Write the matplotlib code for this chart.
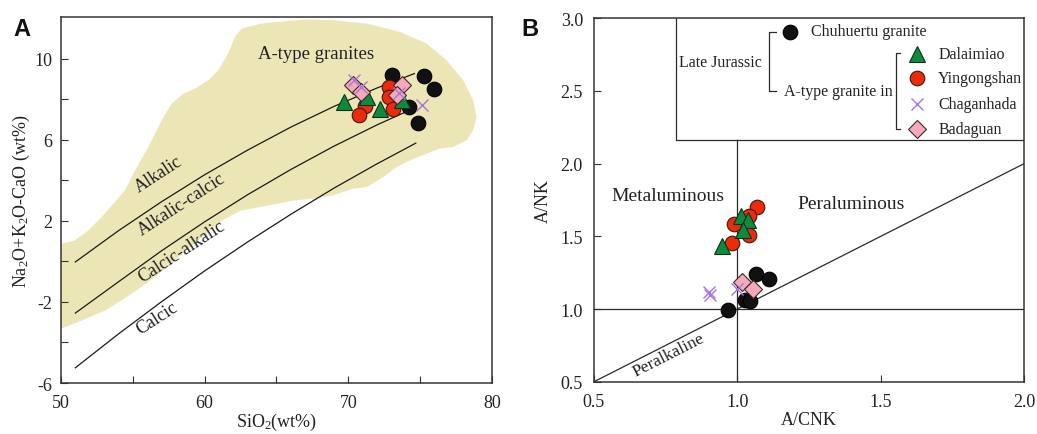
import matplotlib
matplotlib.use("Agg")
import matplotlib.pyplot as plt

plt.rcParams['font.family'] = ['Liberation Serif', 'DejaVu Serif']
plt.rcParams['mathtext.fontset'] = 'custom'
plt.rcParams['mathtext.rm'] = 'Liberation Serif'
plt.rcParams['mathtext.it'] = 'Liberation Serif:italic'

TXT = '#222222'

# ---------------- Panel A data ----------------
field_x = [50.0, 50.97, 51.90, 52.83, 53.64, 54.45, 55.15, 56.08, 57.01, 57.70, 58.51, 59.32,
           60.25, 60.95, 61.64, 62.11, 62.57, 63.97, 66.98, 68.95, 71.27, 73.59, 75.45, 76.84,
           78.00, 78.69, 78.93, 78.69, 78.23, 77.30, 76.37, 75.45, 74.29, 73.36, 72.43, 71.27,
           70.32, 68.95, 67.56, 66.17, 64.00, 62.57, 61.18, 59.55, 58.16, 56.54, 54.92, 53.06,
           51.44, 50.0]
field_y = [0.86, 1.03, 1.52, 2.18, 2.84, 3.50, 4.48, 5.64, 6.95, 7.78, 8.27, 8.52,
           8.93, 9.42, 10.25, 11.07, 11.48, 11.73, 11.93, 11.89, 11.73, 11.32, 10.74, 9.92,
           8.93, 7.94, 7.12, 6.46, 5.97, 5.64, 5.56, 5.31, 4.98, 4.65, 4.16, 3.66,
           3.58, 3.25, 3.09, 3.00, 2.70, 2.51, 2.01, 1.03, 0.21, -0.78, -1.60, -2.43,
           -2.92, -3.33]

b1_x = [51, 54, 57, 60, 63, 66, 69, 72, 74.6]
b1_y = [-0.03, 1.51, 2.94, 4.27, 5.49, 6.62, 7.64, 8.55, 9.26]
b2_x = [51, 54, 57, 60, 63, 66, 69, 72, 74.6]
b2_y = [-2.55, -1.01, 0.52, 1.95, 3.29, 4.53, 5.68, 6.73, 7.56]
b3_x = [51, 54, 57, 60, 63, 66, 69, 72, 74.7]
b3_y = [-5.25, -3.58, -1.99, -0.47, 0.96, 2.32, 3.61, 4.81, 5.83]

a_chu_x = [73.01, 75.26, 75.98, 74.24, 74.84]
a_chu_y = [9.18, 9.13, 8.48, 7.61, 6.80]
a_yin_x = [72.85, 72.85, 73.08, 71.15, 70.76]
a_yin_y = [8.60, 8.11, 7.53, 7.66, 7.20]
a_dal_x = [69.69, 71.32, 72.20, 73.71]
a_dal_y = [7.86, 8.11, 7.53, 7.94]
a_cha_x = [70.39, 70.86, 75.10, 73.50]
a_cha_y = [8.93, 8.60, 7.69, 8.30]
a_bad_x = [70.34, 70.88, 73.71, 73.40]
a_bad_y = [8.68, 8.36, 8.68, 8.22]

# ---------------- Panel B data ----------------
b_chu_x = [1.064, 1.111, 1.025, 1.045, 0.966]
b_chu_y = [1.241, 1.207, 1.063, 1.055, 0.994]
b_yin_x = [1.068, 1.041, 0.988, 1.041, 0.980]
b_yin_y = [1.704, 1.642, 1.585, 1.510, 1.455]
b_dal_x = [1.013, 1.038, 1.019, 0.948]
b_dal_y = [1.638, 1.615, 1.544, 1.436]
b_cha_x = [0.902, 0.905, 0.998]
b_cha_y = [1.116, 1.095, 1.138]
b_bad_x = [1.017, 1.056]
b_bad_y = [1.184, 1.138]

legend_names = ['Dalaimiao', 'Yingongshan', 'Chaganhada', 'Badaguan']

# styles
S_CHU = dict(marker='o', ms=10.5, mfc='#111111', mec='#000000', mew=0.8, ls='none')
S_YIN = dict(marker='o', ms=10.5, mfc='#EE2A0C', mec='#3a1a10', mew=0.8, ls='none')
S_DAL = dict(marker='^', ms=11, mfc='#0E8A3C', mec='#10301a', mew=0.8, ls='none')
S_CHA = dict(marker='x', ms=9, mec='#A678DC', mew=1.0, ls='none')
S_BAD = dict(marker='D', ms=9, mfc='#F6A9BA', mec='#3a2a2a', mew=0.8, ls='none')

FS_TICK = 13
FS_LAB = 13
FS_LEG = 11.5

fig = plt.figure(figsize=(10.37, 4.35), dpi=100)

# ================= Panel A =================
axA = fig.add_axes([0.0588, 0.1172, 0.4156, 0.8414])
axA.fill(field_x, field_y, color='#ECE6B7', lw=0, zorder=1)
for bx, by in [(b1_x, b1_y), (b2_x, b2_y), (b3_x, b3_y)]:
    axA.plot(bx, by, color='#1a1a1a', lw=0.9, zorder=2)
axA.plot(a_chu_x, a_chu_y, zorder=3, **S_CHU)
axA.plot(a_yin_x, a_yin_y, zorder=4, **S_YIN)
axA.plot(a_dal_x, a_dal_y, zorder=5, **S_DAL)
axA.plot(a_bad_x, a_bad_y, zorder=6, **S_BAD)
axA.plot(a_cha_x, a_cha_y, zorder=7, **S_CHA)

axA.set_xlim(50, 80)
axA.set_ylim(-6, 12.05)
axA.set_xticks([50, 55, 60, 65, 70, 75, 80])
axA.set_xticklabels(['50', '', '60', '', '70', '', '80'])
axA.set_yticks([-6, -4, -2, 0, 2, 4, 6, 8, 10])
axA.set_yticklabels(['-6', '', '-2', '', '2', '', '6', '', '10'])
axA.tick_params(direction='in', length=5, width=0.8, labelsize=FS_TICK, colors='#333333',
                labelcolor=TXT)
axA.tick_params(axis='x', pad=8)
axA.tick_params(axis='y', pad=6)
for s in axA.spines.values():
    s.set_linewidth(1.1)
    s.set_color('#333333')
axA.set_xlabel(r'SiO$_{\mathrm{2}}$(wt%)', fontsize=FS_LAB, color=TXT, labelpad=0)
axA.set_ylabel(r'Na$_{\mathrm{2}}$O+K$_{\mathrm{2}}$O-CaO (wt%)', fontsize=FS_LAB, color=TXT,
               labelpad=2)

axA.text(63.7, 10.25, 'A-type granites', fontsize=13.5, color=TXT, ha='left', va='center', zorder=8)
axA.text(56.77, 4.32, 'Alkalic', fontsize=13, color=TXT, rotation=33, ha='center', va='center')
axA.text(58.40, 2.84, 'Alkalic-calcic', fontsize=13, color=TXT, rotation=33, ha='center', va='center')
axA.text(58.40, 0.53, 'Calcic-alkalic', fontsize=13, color=TXT, rotation=33, ha='center', va='center')
axA.text(56.66, -2.76, 'Calcic', fontsize=13, color=TXT, rotation=33, ha='center', va='center')

fig.text(0.0125, 0.958, 'A', fontsize=17, fontweight='bold', family='Liberation Sans',
         ha='left', va='top', color='#111111')

# ================= Panel B =================
axB = fig.add_axes([0.5728, 0.1202, 0.4147, 0.8354])
lc = '#2a2a2a'
axB.plot([0.5, 2.0], [0.5, 2.0], color=lc, lw=0.9)
axB.plot([0.5, 2.0], [1.0, 1.0], color=lc, lw=0.9)
axB.plot([1.0, 1.0], [0.5, 2.16], color=lc, lw=0.9)
axB.plot([0.786, 0.786, 2.0], [3.0, 2.16, 2.16], color=lc, lw=0.9)

axB.plot(b_chu_x, b_chu_y, zorder=3, **S_CHU)
axB.plot(b_yin_x, b_yin_y, zorder=4, **S_YIN)
axB.plot(b_dal_x, b_dal_y, zorder=5, **S_DAL)
axB.plot(b_bad_x, b_bad_y, zorder=6, **S_BAD)
axB.plot(b_cha_x, b_cha_y, zorder=7, **S_CHA)

# legend drawn inside the box
axB.plot([1.184], [2.908], **S_CHU)
axB.text(1.257, 2.915, 'Chuhuertu granite', fontsize=FS_LEG, color=TXT, va='center', ha='left')
axB.text(0.798, 2.697, 'Late Jurassic', fontsize=FS_LEG, color=TXT, va='center', ha='left')
axB.plot([1.135, 1.112, 1.112, 1.135], [2.908, 2.908, 2.498, 2.498], color=lc, lw=0.9)
axB.text(1.164, 2.502, 'A-type granite in', fontsize=FS_LEG, color=TXT, va='center', ha='left')
axB.plot([1.567, 1.552, 1.552, 1.567], [2.759, 2.759, 2.239, 2.239], color=lc, lw=0.9)
leg_y = [2.754, 2.587, 2.411, 2.239]
for st, yy, nm in zip([S_DAL, S_YIN, S_CHA, S_BAD], leg_y, legend_names):
    axB.plot([1.625], [yy], **st)
    axB.text(1.701, yy, nm, fontsize=FS_LEG, color=TXT, va='center', ha='left')

axB.text(0.757, 1.78, 'Metaluminous', fontsize=14, color=TXT, ha='center', va='center')
axB.text(1.396, 1.728, 'Peraluminous', fontsize=14, color=TXT, ha='center', va='center')
axB.text(0.759, 0.684, 'Peralkaline', fontsize=12.5, color=TXT, rotation=27, ha='center', va='center')

axB.set_xlim(0.5, 2.0)
axB.set_ylim(0.5, 3.0)
axB.set_xticks([0.5, 1.0, 1.5, 2.0])
axB.set_xticklabels(['0.5', '1.0', '1.5', '2.0'])
axB.set_yticks([0.5, 1.0, 1.5, 2.0, 2.5, 3.0])
axB.set_yticklabels(['0.5', '1.0', '1.5', '2.0', '2.5', '3.0'])
axB.tick_params(direction='in', length=5, width=0.8, labelsize=FS_TICK, colors='#333333',
                labelcolor=TXT)
axB.tick_params(axis='x', pad=8)
axB.tick_params(axis='y', pad=8)
for s in axB.spines.values():
    s.set_linewidth(1.1)
    s.set_color('#333333')
axB.set_xlabel('A/CNK', fontsize=FS_LAB, color=TXT, labelpad=1)
axB.set_ylabel('A/NK', fontsize=FS_LAB, color=TXT, labelpad=6)

fig.text(0.503, 0.958, 'B', fontsize=17, fontweight='bold', family='Liberation Sans',
         ha='left', va='top', color='#111111')

fig.savefig('out.png', dpi=100)
